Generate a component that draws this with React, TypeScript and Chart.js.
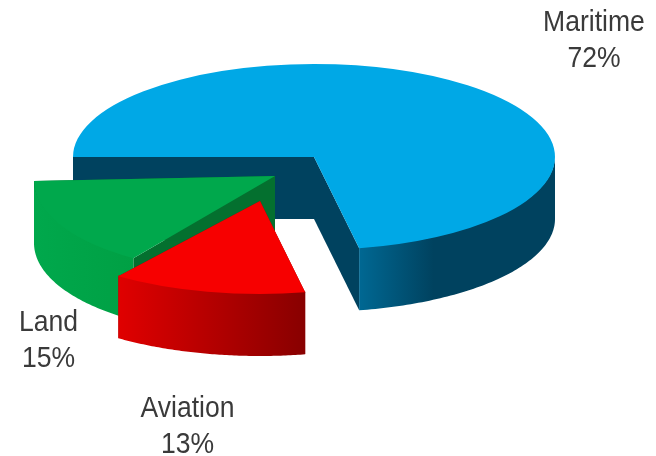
import React, { useEffect, useRef } from "react";
import Chart from "chart.js/auto";

// Share of each transport sector, in drawing order round the pie.
const sectors = ["Maritime", "Aviation", "Land"];
const shares = [72, 13, 15];
const topColors = ["#00a8e6", "#f70000", "#00a84c"];
const cutColors = ["#00425f", "#8f0000", "#04702f"];
const rimStops = [
  [[0, "#006893"], [0.38, "#00425f"], [1, "#00425f"]],
  [[0, "#e00000"], [1, "#880000"]],
  [[0, "#00a84c"], [1, "#00a044"]],
];

// Tilted view of each exploded slice: apex on screen, ellipse radii and shear.
const sliceViews = [
  { ax: 314, ay: 157, rx: 241, ry: 93, shear: 0 },
  { ax: 260, ay: 201, rx: 241, ry: 93, shear: 0 },
  { ax: 275, ay: 176, rx: 241, ry: 98, shear: -5 },
];
const sliceDepth = 62;

const labelSpots = [
  { x: 594, y: 22.5 },
  { x: 187.5, y: 408.5 },
  { x: 48.5, y: 322.5 },
];
const labelGap = 36;

type View = (typeof sliceViews)[number];

const project = (v: View, angle: number) => ({
  x: v.ax + v.rx * Math.cos(angle),
  y: v.ay + v.ry * Math.sin(angle) + v.shear * Math.cos(angle),
});

function drawCutWall(ctx: CanvasRenderingContext2D, v: View, angle: number, color: string) {
  const rim = project(v, angle);
  ctx.beginPath();
  ctx.moveTo(v.ax, v.ay);
  ctx.lineTo(rim.x, rim.y);
  ctx.lineTo(rim.x, rim.y + sliceDepth);
  ctx.lineTo(v.ax, v.ay + sliceDepth);
  ctx.closePath();
  ctx.fillStyle = color;
  ctx.fill();
}

function drawRimWall(ctx: CanvasRenderingContext2D, v: View, start: number, end: number, stops: any[]) {
  const from = Math.max(start, 0);
  const to = Math.min(end, Math.PI);
  if (to <= from) return;
  const steps = 80;
  const a = project(v, from);
  const b = project(v, to);
  const grad = ctx.createLinearGradient(Math.min(a.x, b.x), 0, Math.max(a.x, b.x), 0);
  stops.forEach(([p, c]) => grad.addColorStop(p, c));
  ctx.beginPath();
  // The upper edge runs a pixel under the top face so no pale seam shows between them.
  for (let i = 0; i <= steps; i++) {
    const p = project(v, from + ((to - from) * i) / steps);
    if (i === 0) ctx.moveTo(p.x, p.y - 1);
    else ctx.lineTo(p.x, p.y - 1);
  }
  for (let i = steps; i >= 0; i--) {
    const p = project(v, from + ((to - from) * i) / steps);
    ctx.lineTo(p.x, p.y + sliceDepth);
  }
  ctx.closePath();
  ctx.fillStyle = grad;
  ctx.fill();
}

// Replaces the flat pie drawing with extruded, tilted slices built from the arc elements.
const tiltedPie = {
  id: "tiltedPie",
  beforeDatasetDraw(chart: any) {
    const ctx: CanvasRenderingContext2D = chart.ctx;
    const arcs = chart.getDatasetMeta(0).data;
    const order = sliceViews.map((_, i) => i).sort((a, b) => sliceViews[a].ay - sliceViews[b].ay);
    order.forEach((i) => {
      const arc = arcs[i];
      const v = sliceViews[i];
      drawCutWall(ctx, v, arc.startAngle, cutColors[i]);
      drawCutWall(ctx, v, arc.endAngle, cutColors[i]);
      drawRimWall(ctx, v, arc.startAngle, arc.endAngle, rimStops[i]);
      const r = arc.outerRadius;
      ctx.save();
      ctx.translate(v.ax, v.ay);
      ctx.transform(v.rx / r, v.shear / r, 0, v.ry / r, 0, 0);
      ctx.translate(-arc.x, -arc.y);
      arc.draw(ctx);
      ctx.restore();
    });
    return false;
  },
  afterDatasetsDraw(chart: any) {
    const ctx: CanvasRenderingContext2D = chart.ctx;
    ctx.save();
    ctx.font = '30px "Liberation Sans"';
    ctx.fillStyle = "#3a3a3a";
    ctx.textAlign = "center";
    ctx.textBaseline = "middle";
    sectors.forEach((name, i) => {
      const s = labelSpots[i];
      [name, `${shares[i]}%`].forEach((text, line) => {
        ctx.save();
        ctx.translate(s.x, s.y + line * labelGap);
        ctx.scale(0.885, 1);
        ctx.fillText(text, 0, 0);
        ctx.restore();
      });
    });
    ctx.restore();
  },
};

export default function App() {
  const canvasRef = useRef<HTMLCanvasElement>(null);
  useEffect(() => {
    const chart = new Chart(canvasRef.current!, {
      type: "pie",
      data: {
        labels: sectors,
        datasets: [{ data: shares, backgroundColor: topColors, borderWidth: 0 }],
      },
      options: {
        responsive: false,
        animation: false,
        rotation: -90,
        plugins: { legend: { display: false }, tooltip: { enabled: false } },
      },
      plugins: [tiltedPie],
    } as any);
    return () => chart.destroy();
  }, []);
  return (
    <div style={{ position: "absolute", left: 0, top: 0, width: 656, height: 456, background: "#fff" }}>
      <canvas ref={canvasRef} width={656} height={456} style={{ display: "block" }} />
    </div>
  );
}
